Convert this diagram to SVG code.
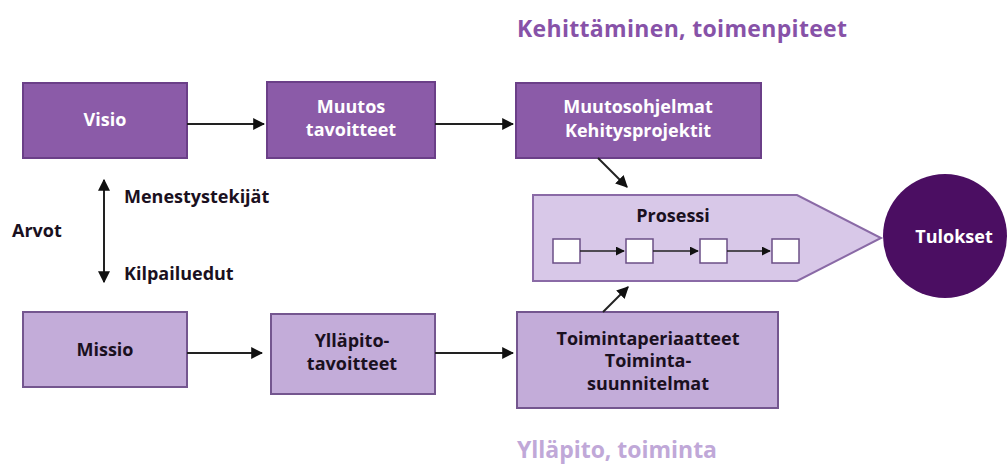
<svg xmlns="http://www.w3.org/2000/svg" width="1008" height="470" viewBox="0 0 1008 470">
<defs>
<style>
text{font-family:"Open Sans","Liberation Sans",sans-serif;font-weight:bold;}
.dark{fill:#8b5ba8;stroke:#6b3f88;stroke-width:2;}
.light{fill:#c3acd9;stroke:#74568f;stroke-width:2;}
.wt{fill:#ffffff;font-size:18px;text-anchor:middle;}
.bt{fill:#1a1020;font-size:18px;text-anchor:middle;}
.lbl{fill:#1a1020;font-size:18px;}
.conn{stroke:#222;stroke-width:2;fill:none;}
.sq{fill:#ffffff;stroke:#6b4f86;stroke-width:1.5;}
</style>
<marker id="ah" viewBox="0 0 10 10" refX="9" refY="5" markerWidth="6" markerHeight="6" orient="auto-start-reverse">
<path d="M0,0 L10,5 L0,10 z" fill="#111"/>
</marker>
</defs>
<rect width="1008" height="470" fill="#ffffff"/>
<text x="682" y="37" style="fill:#8752a8;font-size:23px;text-anchor:middle;" textLength="330">Kehittäminen, toimenpiteet</text>
<text x="617" y="458" style="fill:#c0a8d8;font-size:23px;text-anchor:middle;" textLength="200">Ylläpito, toiminta</text>

<g id="visio"><rect class="dark" x="23" y="83" width="164" height="75"/><text class="wt" x="105" y="126">Visio</text></g>
<g id="muutos"><rect class="dark" x="267" y="82" width="168" height="76"/><text class="wt" x="351" y="113">Muutos</text><text class="wt" x="351" y="136">tavoitteet</text></g>
<g id="muutosohjelmat"><rect class="dark" x="516" y="83" width="245" height="75"/><text class="wt" x="638" y="113">Muutosohjelmat</text><text class="wt" x="638" y="137">Kehitysprojektit</text></g>
<g id="missio"><rect class="light" x="23" y="312" width="164" height="75"/><text class="bt" x="105" y="356">Missio</text></g>
<g id="yllapito"><rect class="light" x="271" y="314" width="164" height="80"/><text class="bt" x="352" y="347">Ylläpito-</text><text class="bt" x="352" y="370">tavoitteet</text></g>
<g id="toiminta"><rect class="light" x="517" y="312" width="261" height="96"/><text class="bt" x="648" y="345">Toimintaperiaatteet</text><text class="bt" x="648" y="367">Toiminta-</text><text class="bt" x="648" y="390">suunnitelmat</text></g>
<g id="prosessi">
<path d="M533,195 L797,195 L881,238 L797,281 L533,281 Z" fill="#d8c8e8" stroke="#8a6aa6" stroke-width="2"/>
<text class="bt" x="673" y="222">Prosessi</text>
<rect class="sq" x="553" y="239" width="27" height="24"/>
<rect class="sq" x="626" y="239" width="27" height="24"/>
<rect class="sq" x="700" y="239" width="27" height="24"/>
<rect class="sq" x="772" y="239" width="27" height="24"/>
<g class="conn" style="stroke-width:1.5">
<line x1="580" y1="251" x2="624" y2="251" marker-end="url(#ah)"/>
<line x1="653" y1="251" x2="698" y2="251" marker-end="url(#ah)"/>
<line x1="727" y1="251" x2="770" y2="251" marker-end="url(#ah)"/>
</g>
</g>
<g id="tulokset"><circle cx="945" cy="236" r="62" fill="#4b0e62"/><text class="wt" x="954" y="243">Tulokset</text></g>
<g id="labels">
<text class="lbl" x="12" y="237">Arvot</text>
<text class="lbl" x="124" y="203">Menestystekijät</text>
<text class="lbl" x="124" y="280">Kilpailuedut</text>
</g>
<g id="connectors" class="conn">
<line x1="187" y1="124" x2="264" y2="124" marker-end="url(#ah)"/>
<line x1="435" y1="124" x2="513" y2="124" marker-end="url(#ah)"/>
<line x1="187" y1="353" x2="262" y2="353" marker-end="url(#ah)"/>
<line x1="435" y1="353" x2="513" y2="353" marker-end="url(#ah)"/>
<line x1="598" y1="158" x2="627" y2="187" marker-end="url(#ah)"/>
<line x1="603" y1="312" x2="628" y2="287" marker-end="url(#ah)"/>
<line x1="104" y1="180" x2="104" y2="282" marker-start="url(#ah)" marker-end="url(#ah)"/>
</g>
</svg>
